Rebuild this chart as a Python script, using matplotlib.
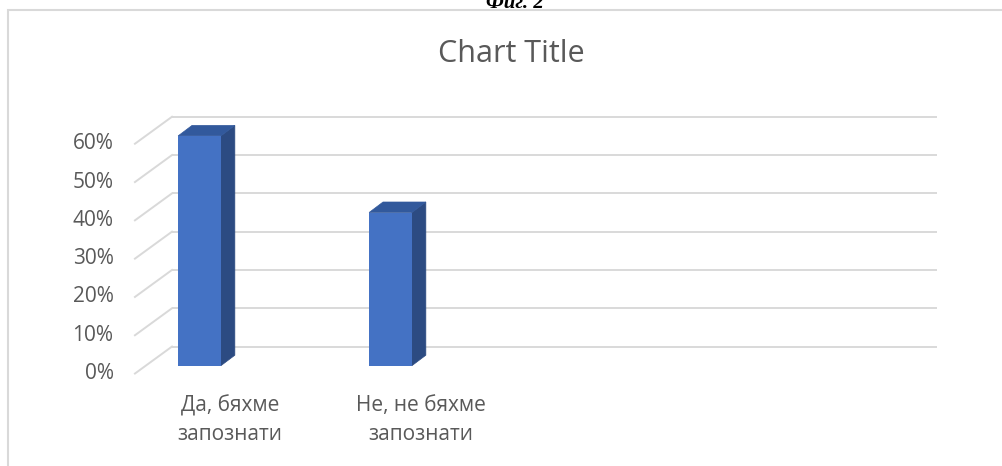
import matplotlib.pyplot as plt
from matplotlib.patches import Polygon, Rectangle

# dane
kategorie = ['Да, бяхме\nзапознати', 'Не, не бяхме\nзапознати', '', '']
wartosci = [60, 40]
yticks = [0, 10, 20, 30, 40, 50, 60]
ytick_labels = ['0%', '10%', '20%', '30%', '40%', '50%', '60%']

# kolory
front = '#4472C4'
bok = '#2C4B82'
gora = '#32599C'
siatka = '#D9D9D9'
szary = '#595959'

W, H = 1002, 466
fig = plt.figure(figsize=(W / 100, H / 100), dpi=100)
ax = fig.add_axes([0, 0, 1, 1])

# skala: 1 kategoria = 191 px, 1% = 3.83 px
px_x, px_y = 191.0, 3.83
x0_px, y0_px = 199.5, 365.7
ax.set_xlim(-x0_px / px_x, (W - x0_px) / px_x)
ax.set_ylim((y0_px - H) / px_y, y0_px / px_y)
ax.axis('off')

# "glebokosc" wykresu 3D
sciana_dy = 5.0       # tylna sciana wzgledem czola slupka
glab_dx, glab_dy = 0.194, 7.05   # cala podloga
bok_dx, bok_dy = 0.073, 2.74     # bok slupka
x_lewy = -0.144
x_prawy = 3.86
szer = 0.224

for t in yticks:
    yb = t + sciana_dy
    ax.plot([x_lewy, x_prawy], [yb, yb], color=siatka, lw=1.4, zorder=1,
            solid_capstyle='butt')
    ax.plot([x_lewy - glab_dx, x_lewy], [yb - glab_dy, yb], color=siatka,
            lw=1.4, zorder=1)

for t, lab in zip(yticks, ytick_labels):
    ax.text(-0.45, t + sciana_dy - glab_dy, lab, ha='right', va='center',
            fontsize=15, color=szary, family='Open Sans')

for i, v in enumerate(wartosci):
    xl, xr = i - szer / 2, i + szer / 2
    ax.add_patch(Polygon([(xr, 0), (xr + bok_dx, bok_dy), (xr + bok_dx, v + bok_dy), (xr, v)],
                         closed=True, facecolor=bok, edgecolor=bok, lw=0.5, zorder=3))
    ax.add_patch(Polygon([(xl, v), (xl + bok_dx, v + bok_dy), (xr + bok_dx, v + bok_dy), (xr, v)],
                         closed=True, facecolor=gora, edgecolor=gora, lw=0.5, zorder=3))
ax.bar(range(len(wartosci)), wartosci, width=szer, color=front, zorder=4)

for i, k in enumerate(kategorie):
    if k:
        ax.text(i + 0.16, -14.2, k, ha='center', va='center', fontsize=15,
                color=szary, family='Open Sans', linespacing=1.45)

fig.text(511 / W, 1 - 54 / H, 'Chart Title', ha='center', va='center',
         fontsize=22, color=szary, family='Open Sans')

# ramka wykresu i podpis nad nim
fig.patches.append(Rectangle((8 / W, -0.1), 1.2, (H - 10) / H + 0.1,
                             transform=fig.transFigure, fill=False,
                             edgecolor='#D9D9D9', lw=1.5))
fig.text(515 / W, 1 - 8 / H, 'Фиг. 2', ha='center', va='baseline',
         fontsize=15, fontweight='bold', fontstyle='italic',
         family='Liberation Serif')

fig.savefig('out.png', dpi=100)
